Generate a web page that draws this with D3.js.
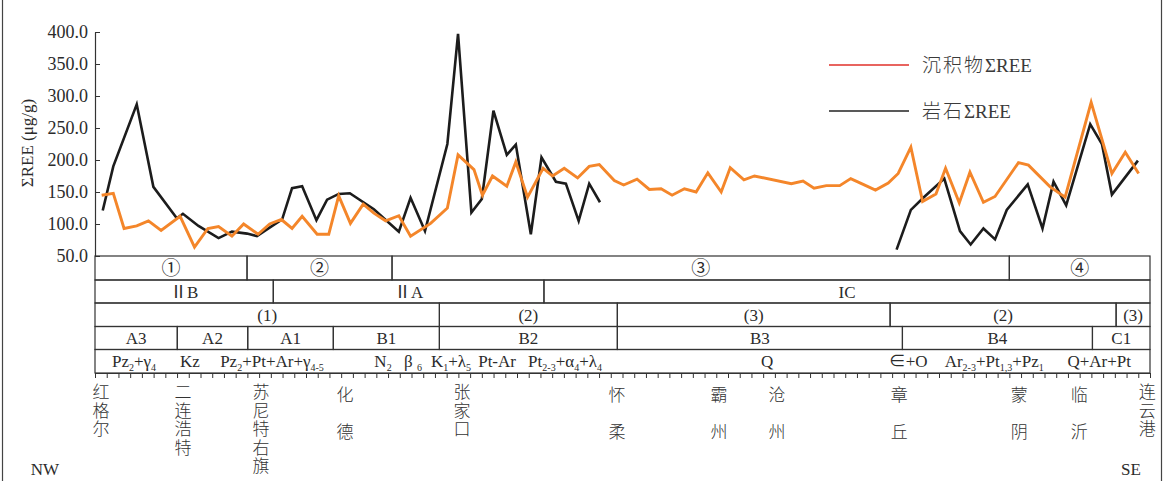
<!DOCTYPE html>
<meta charset="utf-8">
<style>
	body { margin: 0; background: #fff; }
	svg { display: block; }
	text { font-family: "Liberation Serif", "Noto Sans CJK SC", serif; fill: #2b2b2b; }
</style>
<body></body>
<script src="https://d3js.org/d3.v7.min.js"></script>
<script>

	// profile position (tick units, NW -> SE) and ΣREE values (μg/g)
	var sedPos = [0.57, 1.56, 2.48, 3.56, 4.56, 5.64, 7.26, 8.49, 9.63, 10.54, 11.68, 12.68, 13.91, 14.9, 15.9,
		16.81, 17.67, 18.95, 19.94, 20.79, 21.79, 22.88, 23.79, 24.79, 25.92, 26.92, 28.63, 30.06, 30.97, 32.33,
		33.05, 33.91, 35.13, 35.9, 36.9, 38.23, 39.03, 40.03, 41.17, 42.16, 43.02, 44.3, 45.1, 46.24, 47.29,
		48.29, 49.23, 50.28, 51.28, 52.28, 53.42, 54.19, 55.36, 56.26, 59.4, 60.4, 61.34, 62.39, 63.53, 64.47,
		65.53, 66.58, 67.67, 68.52, 69.6, 70.6, 71.74, 72.56, 73.73, 74.64, 75.79, 76.78, 78.78, 79.63, 81.48,
		82.76, 84.98, 86.75, 87.89, 89.03];
	var sedVal = [145, 148, 93, 97, 105, 90, 112, 64, 93, 96, 81, 100, 84, 100, 107,
		93, 112, 84, 84, 144, 101, 131, 117, 105, 113, 81, 101, 125, 208, 185,
		145, 175, 159, 197, 142, 187, 175, 187, 172, 190, 193, 168, 161, 170, 154,
		155, 145, 155, 150, 180, 150, 188, 169, 175, 163, 167, 156, 160, 160, 171,
		162, 153, 164, 179, 220, 135, 147, 187, 133, 181, 134, 143, 196, 192, 158,
		142, 290, 179, 212, 179];

	// null marks the gap in the rock profile
	var rockPos = [0.66, 1.56, 3.56, 4.98, 6.98, 7.5, 8.83, 10.54, 11.68, 12.97, 13.82, 14.96, 15.96, 16.81,
		17.67, 18.89, 19.8, 20.79, 21.74, 23.79, 25.92, 26.92, 28.15, 30.06, 30.97, 32.11, 33.0, 33.99, 35.13,
		35.9, 37.18, 38.09, 39.32, 40.17, 41.26, 42.16, 43.08, null,
		68.38, 69.6, 70.66, 72.45, 73.79, 74.7, 75.79, 76.78, 77.78, 79.57, 80.83, 81.77, 82.85, 84.9, 85.9,
		86.75, 88.97];
	var rockVal = [121, 190, 287, 158, 109, 116, 97, 78, 88, 85, 81, 95, 107, 156,
		159, 106, 138, 147, 148, 123, 88, 141, 89, 225, 397, 118, 139, 277, 208,
		224, 84, 204, 166, 163, 105, 163, 134, null,
		60, 122, 141, 171, 89, 68, 93, 76, 122, 162, 93, 166, 129, 256, 225,
		146, 199];

	var yTicks = [50, 100, 150, 200, 250, 300, 350, 400];

	// table rows under the chart: [from, to, label]
	var rowZones = [[0, 12.97, "①"], [12.97, 25.34, "②"], [25.34, 78, "③"], [78, 90, "④"]];
	var rowTectonic = [[0, 15.21, "ⅡB"], [15.21, 38.3, "ⅡA"], [38.3, 90, "IC"]];
	var rowSub = [[0, 29.38, "(1)"], [29.38, 44.56, "(2)"], [44.56, 67.83, "(3)"], [67.83, 87.11, "(2)"], [87.11, 90, "(3)"]];
	var rowUnit = [[0, 7.02, "A3"], [7.02, 13.03, "A2"], [13.03, 20.33, "A1"], [20.33, 29.38, "B1"],
		[29.38, 44.56, "B2"], [44.56, 68.88, "B3"], [68.88, 85.09, "B4"], [85.09, 90, "C1"]];
	// lithology labels: [centre, text], _x = subscript
	var rowLitho = [[3.33, "Pz_2+γ_4"], [8.1, "Kz"], [15.1, "Pz_2+Pt+Ar+γ_4-5"], [24.57, "N_2"], [27.13, "β _6"],
		[30.37, "K_1+λ_5"], [34.3, "Pt-Ar"], [40.1, "Pt_2-3+α_4+λ_4"], [57.34, "Q"], [69.37, "∈+O"],
		[76.71, "Ar_2-3+Pt_1,3+Pz_1"], [85.67, "Q+Ar+Pt"]];

	var places = [[0.51, "红格尔"], [7.51, "二连浩特"], [14.16, "苏尼特右旗"], [21.33, "化德"], [31.31, "张家口"],
		[44.54, "怀柔"], [53.24, "霸州"], [58.19, "沧州"], [68.6, "章丘"], [78.84, "蒙阴"], [83.96, "临沂"],
		[89.76, "连云港"]];

	var width = 1170, height = 481;
	var svg = d3.select("body").append("svg")
		.attr("width", width)
		.attr("height", height);

	var x = d3.scaleLinear().domain([0, 90]).range([95, 1150]);
	var y = d3.scaleLinear().domain([50, 400]).range([256, 32]);

	// outer frame sides
	svg.append("line").attr("x1", 2.5).attr("x2", 2.5).attr("y1", 0).attr("y2", height)
		.attr("stroke", "#444").attr("stroke-width", 1.2);
	svg.append("line").attr("x1", 1161.5).attr("x2", 1161.5).attr("y1", 0).attr("y2", height)
		.attr("stroke", "#444").attr("stroke-width", 1.2);

	// y axis
	var yAxis = svg.append("g")
		.attr("transform", "translate(" + x(0) + ",0)")
		.call(d3.axisLeft(y).tickValues(yTicks).tickFormat(d3.format(".1f"))
			.tickSizeInner(-5).tickSizeOuter(0).tickPadding(7));
	yAxis.select(".domain").attr("stroke", "#333").attr("stroke-width", 1.2);
	yAxis.selectAll(".tick line").attr("stroke", "#333");
	yAxis.selectAll("text").attr("font-size", 18).attr("fill", "#2b2b2b");

	svg.append("text")
		.attr("transform", "translate(33,143) rotate(-90)")
		.attr("text-anchor", "middle")
		.attr("font-size", 17)
		.text("ΣREE (μg/g)");

	// lines
	var line = d3.line()
		.defined(function(d) { return d[1] != null; })
		.x(function(d) { return x(d[0]); })
		.y(function(d) { return y(d[1]); });

	svg.append("path")
		.datum(d3.zip(rockPos, rockVal))
		.attr("d", line)
		.attr("fill", "none")
		.attr("stroke", "#1c1c1c")
		.attr("stroke-width", 2.6)
		.attr("stroke-linejoin", "miter");

	svg.append("path")
		.datum(d3.zip(sedPos, sedVal))
		.attr("d", line)
		.attr("fill", "none")
		.attr("stroke", "#f4862a")
		.attr("stroke-width", 2.9)
		.attr("stroke-linejoin", "miter");

	// legend
	var legendItems = [["沉积物", "#e0302a", 65], ["岩石", "#222", 111]];
	var legend = svg.append("g").selectAll("g")
		.data(legendItems)
		.enter()
		.append("g");
	legend.append("line")
		.attr("x1", 829).attr("x2", 909)
		.attr("y1", function(d) { return d[2]; })
		.attr("y2", function(d) { return d[2]; })
		.attr("stroke", function(d) { return d[1]; })
		.attr("stroke-width", 1.3);
	var lt = legend.append("text")
		.attr("x", 922)
		.attr("y", function(d) { return d[2]; })
		.attr("dy", "0.35em")
		.attr("font-size", 19)
		.style("fill", "#3a3a3a");
	lt.append("tspan").style("font-family", "Noto Sans CJK SC").attr("font-weight", 300)
		.attr("letter-spacing", 2).text(function(d) { return d[0]; });
	lt.append("tspan").style("font-family", "Liberation Serif").text("ΣREE");

	// table
	var rowY = [256, 280, 303, 326.5, 349.5, 373];
	var table = svg.append("g");
	var rows = [rowZones, rowTectonic, rowSub, rowUnit];

	rows.forEach(function(cells, r) {
		var g = table.append("g");
		g.selectAll("rect")
			.data(cells)
			.enter()
			.append("rect")
			.attr("x", function(d) { return x(d[0]); })
			.attr("y", rowY[r])
			.attr("width", function(d) { return x(d[1]) - x(d[0]); })
			.attr("height", rowY[r + 1] - rowY[r])
			.attr("fill", "none")
			.attr("stroke", "#333")
			.attr("stroke-width", 1.2);
		g.selectAll("text")
			.data(cells)
			.enter()
			.append("text")
			.attr("x", function(d) { return (x(d[0]) + x(d[1])) / 2; })
			.attr("y", (rowY[r] + rowY[r + 1]) / 2)
			.attr("dy", "0.36em")
			.attr("text-anchor", "middle")
			.attr("font-size", r == 0 ? 19 : 17)
			.text(function(d) { return d[2]; });
	});

	table.append("rect")
		.attr("x", x(0)).attr("y", rowY[4])
		.attr("width", x(90) - x(0)).attr("height", rowY[5] - rowY[4])
		.attr("fill", "none").attr("stroke", "#333").attr("stroke-width", 1.2);

	var litho = table.append("g").selectAll("text")
		.data(rowLitho)
		.enter()
		.append("text")
		.attr("x", function(d) { return x(d[0]); })
		.attr("y", (rowY[4] + rowY[5]) / 2)
		.attr("dy", "0.36em")
		.attr("text-anchor", "middle")
		.attr("font-size", 17);

	litho.each(function(d) {
		var t = d3.select(this);
		var parts = d[1].split("_");
		t.append("tspan").text(parts[0]);
		for (var i = 1; i < parts.length; i++) {
			var m = parts[i].match(/^([0-9,\-]+)(.*)$/);
			t.append("tspan").attr("font-size", 10).attr("dy", 4).text(m[1]);
			if (m[2]) t.append("tspan").attr("dy", -4).text(m[2]);
		}
	});

	// bottom ticks
	var xAxis = svg.append("g")
		.attr("transform", "translate(0," + rowY[5] + ")")
		.call(d3.axisBottom(x).tickValues(d3.range(0, 91)).tickFormat("").tickSizeInner(5).tickSizeOuter(0));
	xAxis.select(".domain").attr("stroke", "#333").attr("stroke-width", 1.2);
	xAxis.selectAll(".tick line").attr("stroke", "#333");

	// place names, written vertically (one text each)
	svg.append("g").selectAll("text")
		.data(places)
		.enter()
		.append("text")
		.attr("x", function(d) { return x(d[0]); })
		.attr("y", 383)
		.style("writing-mode", "vertical-rl")
		.style("font-family", "Noto Sans CJK SC")
		.style("fill", "#333")
		.attr("font-weight", 300)
		.attr("font-size", 17)
		.attr("letter-spacing", function(d) { return d[1].length == 2 ? 20 : 1.6; })
		.attr("dy", function(d) { return d[1].length == 2 ? 3 : 0; })
		.text(function(d) { return d[1]; });

	svg.append("text").attr("x", 45).attr("y", 469).attr("dy", "0.35em")
		.attr("text-anchor", "middle").attr("font-size", 17).text("NW");
	svg.append("text").attr("x", 1131).attr("y", 469).attr("dy", "0.35em")
		.attr("text-anchor", "middle").attr("font-size", 17).text("SE");

</script>
